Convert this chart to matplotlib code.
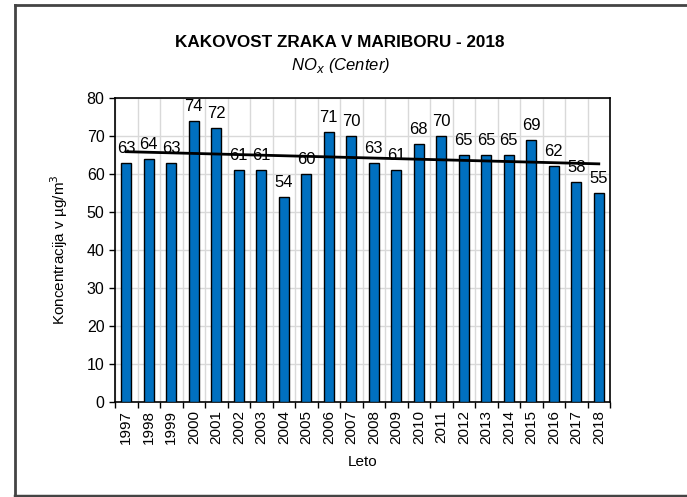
import numpy as np
import matplotlib.pyplot as plt
from matplotlib.lines import Line2D

years = [str(y) for y in range(1997, 2019)]
values = [63, 64, 63, 74, 72, 61, 61, 54, 60, 71, 70, 63, 61, 68, 70, 65, 65, 65, 69, 62, 58, 55]

plt.rcParams['font.family'] = ['Liberation Sans', 'DejaVu Sans']

fig = plt.figure(figsize=(6.87, 4.97), dpi=100)
ax = fig.add_axes([0.1674, 0.1911, 0.7206, 0.6117])

x = np.arange(len(values))
bars = ax.bar(x, values, width=0.45, color='#0070C0', edgecolor='black', linewidth=1, zorder=3)
ax.bar_label(bars, labels=[str(v) for v in values], padding=5, fontsize=12, zorder=5)

# linear trend
k, n = np.polyfit(x, values, 1)
ax.plot(x, k * x + n, color='black', linewidth=2, zorder=4)

ax.set_xlim(-0.5, len(values) - 0.5)
ax.set_ylim(0, 80)
ax.set_yticks(range(0, 81, 10))
ax.set_xticks(x)
ax.set_xticklabels(years, rotation=90, fontsize=11)
ax.set_xticks(np.arange(-0.5, len(values), 1), minor=True)
ax.tick_params(axis='x', which='major', length=0, pad=6)
ax.tick_params(axis='x', which='minor', length=4, width=1, direction='out')
ax.tick_params(axis='y', length=4, width=1, direction='out', labelsize=11.5)

ax.grid(axis='y', color='#d9d9d9', linewidth=1, zorder=0)
ax.grid(axis='x', which='minor', color='#d9d9d9', linewidth=1, zorder=0)
ax.set_axisbelow(True)
for s in ax.spines.values():
    s.set_linewidth(1.2)
    s.set_color('black')

ax.set_ylabel('Koncentracija v µg/m$^3$', fontsize=11, labelpad=12)
ax.set_xlabel('Leto', fontsize=11, labelpad=8)

fig.text(0.495, 0.915, 'KAKOVOST ZRAKA V MARIBORU - 2018', ha='center', va='center',
         fontsize=12.3, fontweight='bold')
fig.text(0.495, 0.868, 'NO$_x$ (Center)', ha='center', va='center', fontsize=12, style='italic')

# page frame
fig.add_artist(Line2D([15/687, 15/687], [0.002, 1 - 5/497], color='#444444', linewidth=2,
                      transform=fig.transFigure))
fig.add_artist(Line2D([15/687, 1], [1 - 5/497, 1 - 5/497], color='#444444', linewidth=2,
                      transform=fig.transFigure))
fig.add_artist(Line2D([15/687, 1], [0.003, 0.003], color='#444444', linewidth=2.5,
                      transform=fig.transFigure))

fig.savefig('out.png', dpi=100)
